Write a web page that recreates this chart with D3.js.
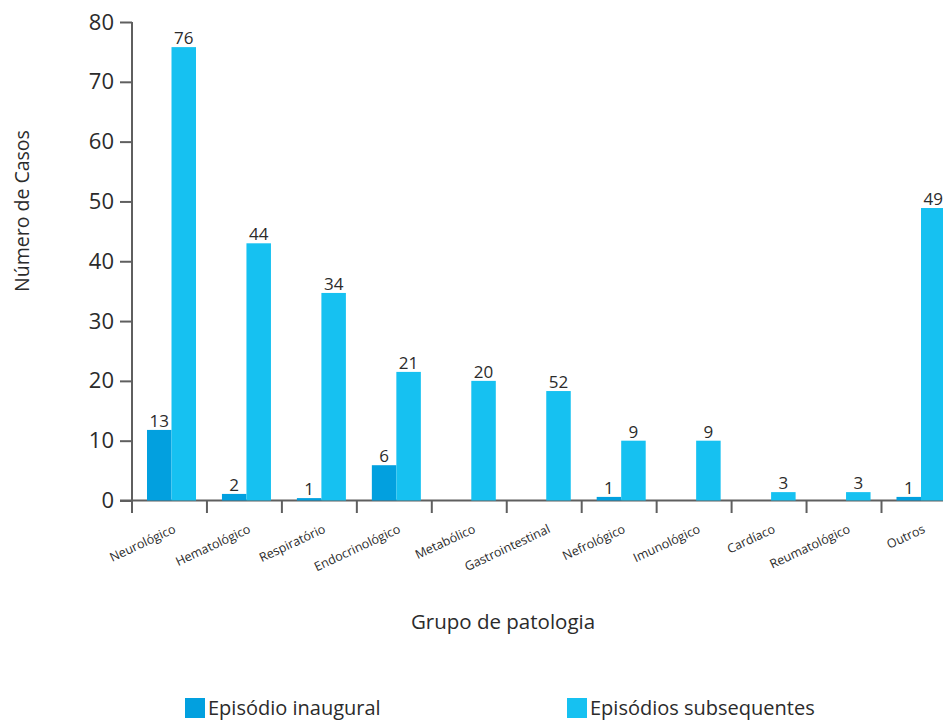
<!DOCTYPE html>
<html>
<head>
<meta charset="utf-8">
<script src="https://cdn.jsdelivr.net/npm/d3@7"></script>
<style>
  body { margin: 0; background: #fff; }
  text { font-family: "Open Sans", "Noto Sans", sans-serif; fill: #2b2b2b; }
</style>
</head>
<body>
<div id="chart"></div>
<script>
// categories and series
const categories = ["Neurológico", "Hematológico", "Respiratório", "Endocrinológico", "Metabólico",
  "Gastrointestinal", "Nefrológico", "Imunológico", "Cardíaco", "Reumatológico", "Outros"];
const seriesNames = ["Episódio inaugural", "Episódios subsequentes"];
// bar heights as drawn in the picture
const inaugural = [11.8, 1.1, 0.4, 5.9, 0, 0, 0.6, 0, 0, 0, 0.6];
const subsequentes = [75.8, 43, 34.7, 21.5, 20, 18.3, 10, 10, 1.4, 1.4, 48.9];
// printed labels (these don't always match the bars)
const inauguralLabels = ["13", "2", "1", "6", "", "", "1", "", "", "", "1"];
const subsequentesLabels = ["76", "44", "34", "21", "20", "52", "9", "9", "3", "3", "49"];
const yTicks = [0, 10, 20, 30, 40, 50, 60, 70, 80];
const colors = ["#02a0df", "#16c1f1"];

const W = 943, H = 721;
const svg = d3.select("#chart").append("svg")
  .attr("width", W)
  .attr("height", H);

const x = d3.scaleBand()
  .domain(categories)
  .range([132, 132 + categories.length * 74.95]);
const x1 = d3.scaleBand()
  .domain(seriesNames)
  .range([15, 64]);
const y = d3.scaleLinear()
  .domain([0, 80])
  .range([500.5, 22]);

const axisColor = "#5f5f5f";

// Y axis
const yAxis = svg.append("g")
  .attr("transform", "translate(132,0)")
  .call(d3.axisLeft(y).tickValues(yTicks).tickSize(12).tickPadding(6));
yAxis.select(".domain").remove();
yAxis.selectAll(".tick line").attr("stroke", axisColor).attr("stroke-width", 2);
yAxis.selectAll(".tick text")
  .style("font-family", "'Open Sans', sans-serif")
  .style("font-size", "22px")
  .attr("fill", "#2b2b2b");
svg.append("line")
  .attr("x1", 132).attr("x2", 132)
  .attr("y1", y(80)).attr("y2", 513)
  .attr("stroke", axisColor).attr("stroke-width", 2);

// X axis line and ticks at band edges
svg.append("line")
  .attr("x1", 120).attr("x2", W)
  .attr("y1", y(0)).attr("y2", y(0))
  .attr("stroke", axisColor).attr("stroke-width", 2);
svg.append("g")
  .selectAll("line")
  .data(categories)
  .enter().append("line")
  .attr("x1", d => x(d)).attr("x2", d => x(d))
  .attr("y1", y(0)).attr("y2", 513)
  .attr("stroke", axisColor).attr("stroke-width", 2);

// bars
const data = categories.map((c, i) => ({
  cat: c,
  vals: [
    { s: seriesNames[0], v: inaugural[i], label: inauguralLabels[i] },
    { s: seriesNames[1], v: subsequentes[i], label: subsequentesLabels[i] }
  ]
}));

const groups = svg.append("g")
  .selectAll("g")
  .data(data)
  .enter().append("g")
  .attr("transform", d => `translate(${x(d.cat)},0)`);

groups.selectAll("rect")
  .data(d => d.vals.filter(v => v.v > 0))
  .enter().append("rect")
  .attr("x", d => x1(d.s))
  .attr("y", d => y(d.v))
  .attr("width", x1.bandwidth())
  .attr("height", d => y(0) - y(d.v))
  .attr("fill", d => colors[seriesNames.indexOf(d.s)]);

groups.selectAll("text.val")
  .data(d => d.vals.filter(v => v.label !== ""))
  .enter().append("text")
  .attr("class", "val")
  .attr("x", d => x1(d.s) + x1.bandwidth() / 2)
  .attr("y", d => y(d.v) - 3)
  .attr("text-anchor", "middle")
  .style("font-size", "17px")
  .text(d => d.label);

// category labels
svg.append("g")
  .selectAll("text")
  .data(categories)
  .enter().append("text")
  .attr("transform", d => `translate(${x(d) + x.bandwidth() / 2 + 7},532) rotate(-25)`)
  .attr("text-anchor", "end")
  .style("font-size", "12.5px")
  .text(d => d);

// axis titles
svg.append("text")
  .attr("transform", "translate(29,211) rotate(-90)")
  .attr("text-anchor", "middle")
  .style("font-size", "19.5px")
  .text("Número de Casos");
svg.append("text")
  .attr("x", 503)
  .attr("y", 629)
  .attr("text-anchor", "middle")
  .style("font-size", "20.5px")
  .text("Grupo de patologia");

// legend
const legendX = [185, 567];
const legend = svg.append("g")
  .selectAll("g")
  .data(seriesNames)
  .enter().append("g")
  .attr("transform", (d, i) => `translate(${legendX[i]},698)`);
legend.append("rect")
  .attr("width", 20)
  .attr("height", 20)
  .attr("fill", (d, i) => colors[i]);
legend.append("text")
  .attr("x", 23)
  .attr("y", 16.5)
  .style("font-size", "20px")
  .text(d => d);
</script>
</body>
</html>
